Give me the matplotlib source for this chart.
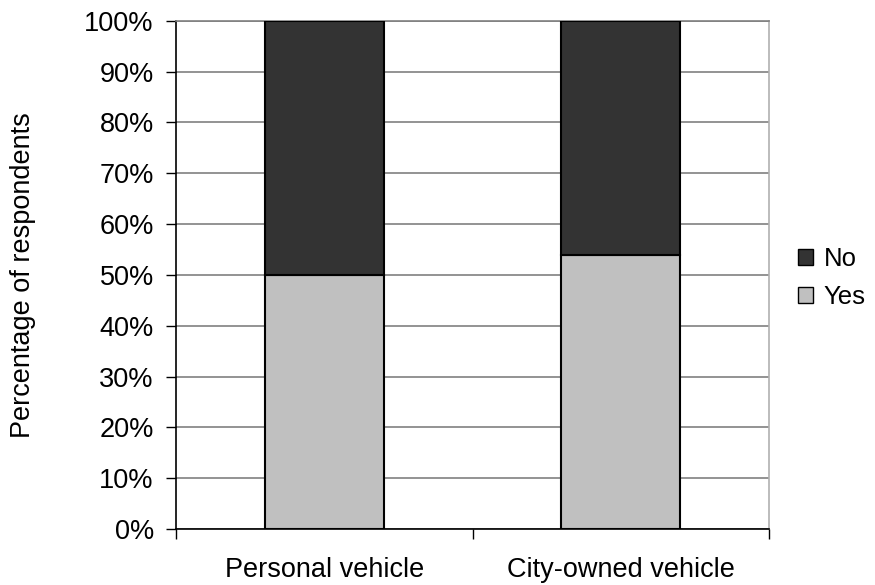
import matplotlib
matplotlib.use("Agg")
import matplotlib.pyplot as plt
import numpy as np
from matplotlib.patches import Patch

plt.rcParams['font.family'] = ['Liberation Sans', 'DejaVu Sans']

categories = ["Personal vehicle", "City-owned vehicle"]
yes_vals = [50, 54]
no_vals = [50, 46]
yticks = list(range(0, 101, 10))
ytick_labels = [f"{v}%" for v in yticks]

FS = 19.5

fig = plt.figure(figsize=(8.75, 5.85), dpi=100)
ax = fig.add_axes([176 / 875, 56 / 585, 593 / 875, 508.3 / 585])

x = np.arange(len(categories))
w = 0.4
ax.bar(x, yes_vals, width=w, color="#C0C0C0", edgecolor="black", linewidth=1.5, zorder=3)
ax.bar(x, no_vals, width=w, bottom=yes_vals, color="#333333", edgecolor="black", linewidth=1.5, zorder=3)

ax.set_xlim(-0.5, 1.5)
ax.set_ylim(0, 100)
ax.set_yticks(yticks)
ax.set_yticklabels(ytick_labels, fontsize=FS)
ax.yaxis.grid(True, color="#808080", linewidth=1.2, zorder=0)
ax.set_axisbelow(True)

ax.set_xticks([-0.5, 0.5, 1.5])
ax.set_xticklabels([])
ax.set_xticks(x, minor=True)
ax.set_xticklabels(categories, minor=True, fontsize=FS)
ax.tick_params(axis='x', which='minor', length=0, pad=20)
ax.tick_params(axis='x', which='major', length=7, width=1, color="black", direction='out')
ax.tick_params(axis='y', length=7, width=1, color="black", pad=9)

fig.text(23 / 875, 1 - 275 / 585, "Percentage of respondents", rotation=90,
         ha='center', va='center', fontsize=FS)

for s in ["left", "bottom"]:
    ax.spines[s].set_color("black")
    ax.spines[s].set_linewidth(1.2)
ax.spines["top"].set_color("#808080")
ax.spines["top"].set_linewidth(1.2)
ax.spines["right"].set_color("#b0b0b0")
ax.spines["right"].set_linewidth(1.2)

handles = [Patch(facecolor="#333333", edgecolor="black", label="No"),
           Patch(facecolor="#C0C0C0", edgecolor="black", label="Yes")]
fig.legend(handles=handles, loc="center left", bbox_to_anchor=(798 / 875, 1 - 278 / 585),
           frameon=False, fontsize=18.5, handlelength=0.6, handleheight=0.6,
           handletextpad=0.4, labelspacing=0.55, borderpad=0, borderaxespad=0)

fig.savefig("out.png", dpi=100)
